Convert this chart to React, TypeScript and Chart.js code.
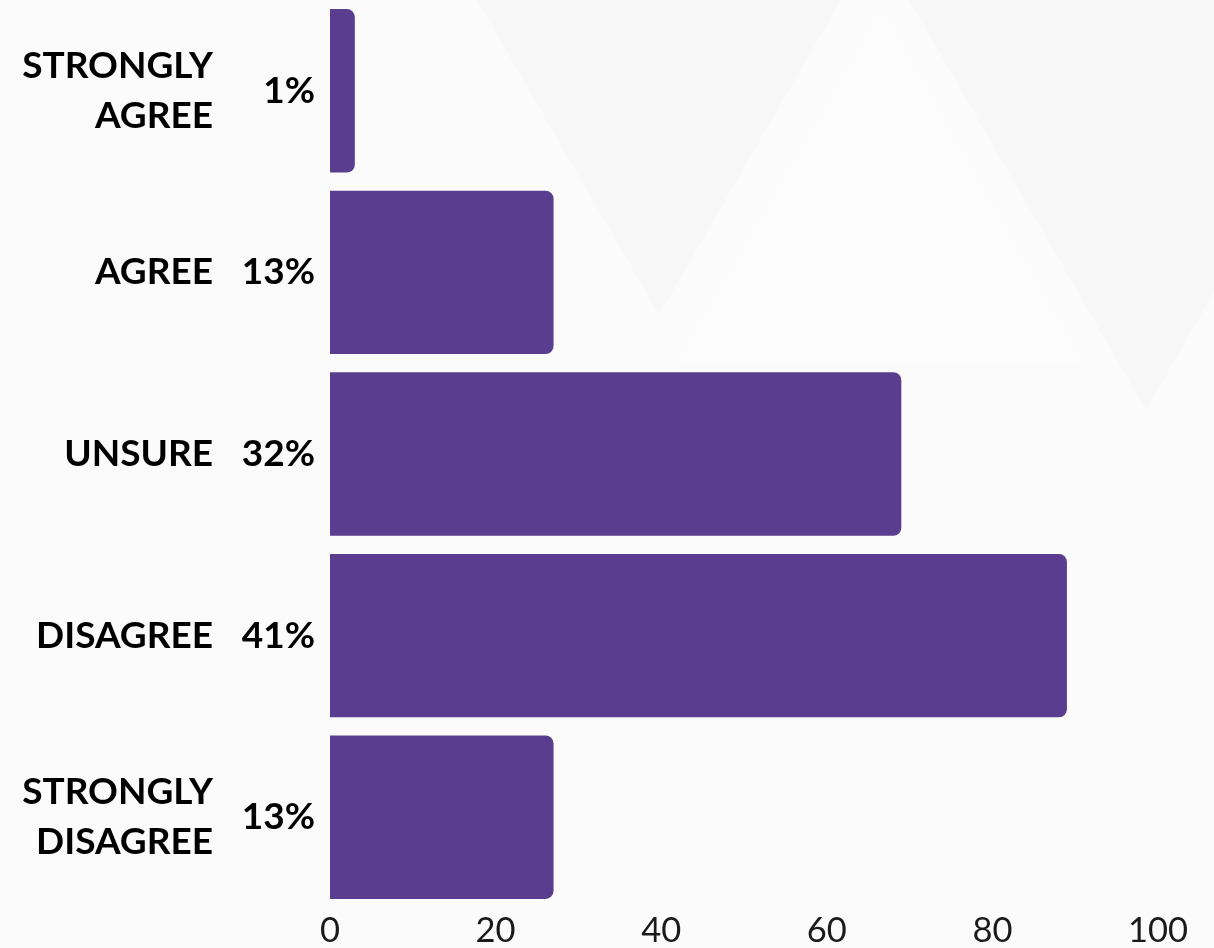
import React, { useEffect, useRef } from "react";
import { Chart, registerables } from "chart.js";

Chart.register(...registerables);

const categories: (string | string[])[] = [
  ["STRONGLY", "AGREE"],
  "AGREE",
  "UNSURE",
  "DISAGREE",
  ["STRONGLY", "DISAGREE"],
];
const responses = [3, 27, 69, 89, 27];
const percentLabels = ["1%", "13%", "32%", "41%", "13%"];
const xTicks = [0, 20, 40, 60, 80, 100];

const BAR_COLOR = "#5a3d8f";

export default function App() {
  const ref = useRef<HTMLCanvasElement | null>(null);

  useEffect(() => {
    if (!ref.current) return;
    const noVPad = (scale: any) => {
      scale.paddingTop = 0;
      scale.paddingBottom = 0;
    };
    const chart = new Chart(ref.current, {
      type: "bar",
      data: {
        labels: categories as any,
        datasets: [
          {
            data: responses,
            backgroundColor: BAR_COLOR,
            borderRadius: 8,
            borderSkipped: "start",
            categoryPercentage: 1,
            barPercentage: 0.9,
            yAxisID: "y",
          },
        ],
      },
      options: {
        indexAxis: "y",
        animation: false,
        responsive: true,
        maintainAspectRatio: false,
        layout: { padding: { left: 0, right: 56, top: 0, bottom: 0 } },
        plugins: {
          legend: { display: false },
          tooltip: { enabled: false },
          title: { display: false },
        },
        scales: {
          x: {
            min: 0,
            max: 100,
            afterBuildTicks: (scale: any) => {
              scale.ticks = xTicks.map((v) => ({ value: v }));
            },
            afterFit: (scale: any) => {
              scale.height = 40;
            },
            grid: { display: false, drawTicks: false },
            border: { display: false },
            ticks: {
              padding: 6,
              color: "#1a1a1a",
              font: { family: "Lato", size: 34.5, weight: "normal", lineHeight: 1.0 },
            },
          },
          y: {
            type: "category",
            position: "left",
            weight: 1,
            grid: { display: false, drawTicks: false },
            border: { display: false },
            afterFit: (scale: any) => {
              scale.width = 230;
              noVPad(scale);
            },
            ticks: {
              padding: 17,
              color: "#000",
              font: { family: "Lato", size: 37, weight: "bold", lineHeight: 1.35 },
            },
          },
          yPct: {
            type: "category",
            labels: percentLabels,
            position: "left",
            offset: true,
            weight: 0,
            grid: { display: false, drawTicks: false },
            border: { display: false },
            afterFit: (scale: any) => {
              scale.width = 100;
              noVPad(scale);
            },
            ticks: {
              padding: 15,
              color: "#000",
              font: { family: "Lato", size: 37, weight: "bold", lineHeight: 1.2 },
            },
          },
        },
      } as any,
    });
    return () => chart.destroy();
  }, []);

  return (
    <div
      style={{
        position: "fixed",
        left: 0,
        top: 0,
        width: 1214,
        height: 948,
        background: "#fbfbfb",
        overflow: "hidden",
      }}
    >
      <svg
        width={1214}
        height={948}
        style={{ position: "absolute", left: 0, top: 0 }}
      >
        <polygon points="477,0 841,0 659,315" fill="#f8f8f8" />
        <polygon points="909,0 1383,0 1146,410" fill="#f8f8f8" />
        <polygon points="674,363 882,5 1085,363" fill="#fcfcfc" />
      </svg>
      <div style={{ position: "absolute", left: 0, top: 0, width: 1214, height: 948 }}>
        <canvas ref={ref} />
      </div>
    </div>
  );
}
